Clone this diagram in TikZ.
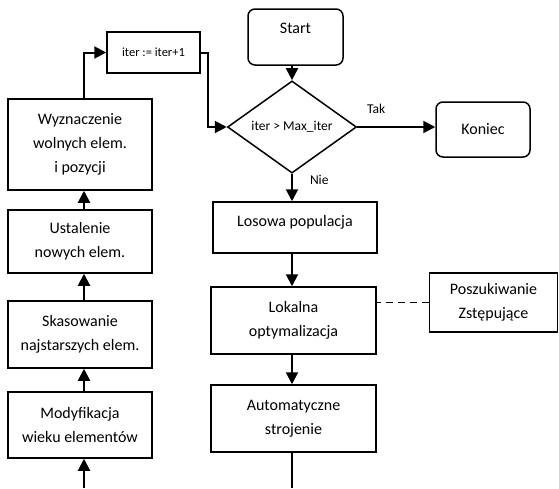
\documentclass[tikz,border=0pt]{standalone}
\usepackage{fontspec}
\setmainfont{Carlito}
\usetikzlibrary{shapes.geometric,arrows.meta,calc}

\tikzset{
  box/.style={draw, line width=1.5pt, inner sep=0pt, align=center,
              font=\fontsize{16}{24}\selectfont},
  rbox/.style={box, rounded corners=7pt},
  decision/.style={draw, diamond, line width=1.5pt, inner sep=0pt,
              font=\fontsize{13.5}{16}\selectfont},
  txt/.style={inner sep=0pt, font=\fontsize{16}{24}\selectfont},
  small/.style={inner sep=0pt, font=\fontsize{13.5}{16}\selectfont},
  flow/.style={line width=2pt, -{Triangle[length=12pt,width=12pt]}},
  plain/.style={line width=2pt},
  link/.style={line width=1.6pt, dash pattern=on 7pt off 5pt}
}

\begin{document}
\begin{tikzpicture}[x=1pt,y=-1pt]
\useasboundingbox (0,0) rectangle (559,488);

% main column
\node[rbox, minimum width=95pt, minimum height=56pt,
      label={[txt, yshift=9pt, name=starttxt]center:Start}] (start) at (295.5,37) {};
\node[decision, minimum width=129pt, minimum height=84pt] (dec) at (292,127) {iter > Max\_iter};
\node[rbox, minimum width=94pt, minimum height=55pt] (end) at (483,129.5) {Koniec};
\node[box, minimum width=164pt, minimum height=51pt,
      label={[txt, yshift=5.5pt, name=lostxt]center:Losowa populacja}] (los) at (295,227.5) {};
\node[box, minimum width=165pt, minimum height=67pt] (lok) at (293.5,320.5) {Lokalna\\optymalizacja};
\node[box, minimum width=165pt, minimum height=67pt] (auto) at (293.5,418.5) {Automatyczne\\strojenie};
\node[box, minimum width=128pt, minimum height=59pt] (posz) at (493.5,302.5) {Poszukiwanie\\Zstępujące};

% left column
\node[box, minimum width=93pt, minimum height=41pt, font=\fontsize{12.5}{15}\selectfont] (inc) at (153.5,52.5) {iter := iter+1};
\node[box, minimum width=144pt, minimum height=91pt] (wyz) at (80,144.5) {Wyznaczenie\\wolnych elem.\\i pozycji};
\node[box, minimum width=144pt, minimum height=63pt] (ust) at (80,241.5) {Ustalenie\\nowych elem.};
\node[box, minimum width=144pt, minimum height=67pt] (ska) at (80,334.5) {Skasowanie\\najstarszych elem.};
\node[box, minimum width=144pt, minimum height=66pt] (mod) at (80,425) {Modyfikacja\\wieku elementów};

% loose ends at the bottom edge
\coordinate (leftin) at (84,488);
\coordinate (mainout) at (292,488);

% connectors
\draw[flow] (start.south -| dec.north) -- (dec.north);
\draw[flow] (dec.east) -- node[small, above, yshift=12pt, xshift=-20pt] (tak) {Tak} (dec.east -| end.west);
\draw[flow] (dec.south) -- node[small, right, xshift=17pt, yshift=8pt] (nie) {Nie} (los.north -| dec.south);
\draw[flow] (los.south -| dec.south) -- (lok.north -| dec.south);
\draw[flow] (lok.south -| dec.south) -- (auto.north -| dec.south);
\draw[plain] (auto.south -| dec.south) -- (mainout);
\draw[link] (posz.west) -- (posz.west -| lok.east);

\draw[flow] (inc.east) -- ++(7,0) |- (dec.west);
\draw[flow] (wyz.north -| leftin) |- (inc.west);
\draw[flow] (ust.north -| leftin) -- (wyz.south -| leftin);
\draw[flow] (ska.north -| leftin) -- (ust.south -| leftin);
\draw[flow] (mod.north -| leftin) -- (ska.south -| leftin);
\draw[flow] (leftin) -- (mod.south -| leftin);
\end{tikzpicture}
\end{document}
